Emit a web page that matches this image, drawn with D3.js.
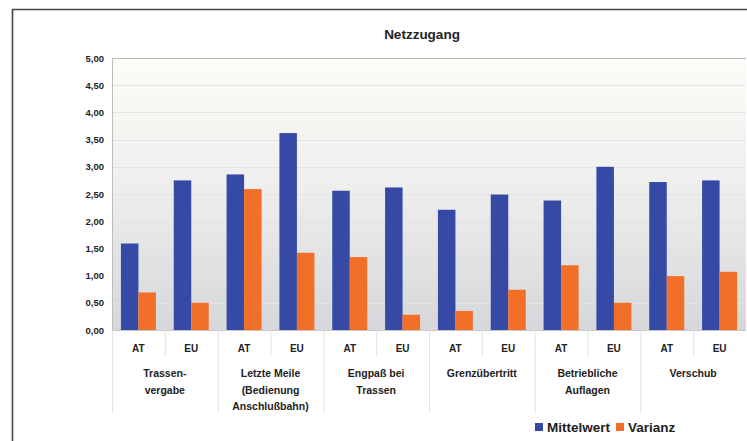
<!DOCTYPE html>
<html><head><meta charset="utf-8">
<script src="https://cdn.jsdelivr.net/npm/d3@7"></script>
<style>
html,body{margin:0;padding:0;background:#fff;}
svg{display:block;font-family:"Liberation Sans",Arial,sans-serif;}
</style></head>
<body><svg id="c" width="747" height="441"></svg>
<script>
const categories = [["Trassen-","vergabe"],["Letzte Meile","(Bedienung","Anschlußbahn)"],["Engpaß bei","Trassen"],["Grenzübertritt"],["Betriebliche","Auflagen"],["Verschub"]];
const regions = ["AT","EU"];
const seriesNames = ["Mittelwert","Varianz"];
const mittelwert = [1.59,2.75, 2.86,3.62, 2.56,2.62, 2.21,2.49, 2.38,3.00, 2.72,2.75];
const varianz    = [0.69,0.50, 2.59,1.42, 1.34,0.28, 0.35,0.74, 1.19,0.50, 0.99,1.07];
const yTicks = [0,0.5,1,1.5,2,2.5,3,3.5,4,4.5,5];
const colors = ["#3549a5","#f26f27"];

const svg = d3.select("#c");
const L = 112, R = 746, T = 58, B = 330;

// outer frame
svg.append("line").attr("x1",12).attr("x2",747).attr("y1",9.5).attr("y2",9.5).attr("stroke","#444").attr("stroke-width",1.6);
svg.append("line").attr("x1",12.5).attr("x2",12.5).attr("y1",9).attr("y2",441).attr("stroke","#444").attr("stroke-width",1.6);

// gradient
const defs = svg.append("defs");
const g = defs.append("linearGradient").attr("id","bg").attr("x1",0).attr("x2",0).attr("y1",0).attr("y2",1);
g.append("stop").attr("offset","0%").attr("stop-color","#fdfcf7");
g.append("stop").attr("offset","45%").attr("stop-color","#efefee");
g.append("stop").attr("offset","100%").attr("stop-color","#d6d7da");
svg.append("rect").attr("x",L).attr("y",T).attr("width",R-L).attr("height",B-T).attr("fill","url(#bg)");

const y = d3.scaleLinear().domain([0,5]).range([B,T]);
const xCat = d3.scaleBand().domain(d3.range(categories.length)).range([L,R]);
const xReg = d3.scaleBand().domain(regions).range([0,xCat.bandwidth()]);
const xSer = d3.scaleBand().domain(seriesNames).range([0,xReg.bandwidth()]).paddingOuter(0.51).paddingInner(0);

// gridlines
svg.append("g").selectAll("line").data(yTicks.filter(d=>d>0)).join("line")
  .attr("x1",L).attr("x2",R).attr("y1",d=>Math.round(y(d))+0.5).attr("y2",d=>Math.round(y(d))+0.5)
  .attr("stroke",d=>d===5?"#b9b9b9":"#e3e3e3").attr("stroke-width",d=>d===5?1.2:1);

// y axis
const yAxis = d3.axisLeft(y).tickValues(yTicks).tickSize(0).tickPadding(8)
  .tickFormat(d=>d3.format(".2f")(d).replace(".",","));
const ya = svg.append("g").attr("transform",`translate(${L},0)`).call(yAxis);
ya.select(".domain").attr("stroke","#bdbdbd");
ya.selectAll("text").attr("font-size",9.5).attr("font-weight","bold").attr("fill","#222").attr("font-family","'Liberation Sans',Arial,sans-serif");

// bars
const rows = [];
categories.forEach((c,i)=>regions.forEach((r,j)=>{
  const k = i*regions.length+j;
  rows.push({cat:i,reg:r,s:seriesNames[0],v:mittelwert[k]});
  rows.push({cat:i,reg:r,s:seriesNames[1],v:varianz[k]});
}));
svg.append("g").selectAll("rect").data(rows).join("rect")
  .attr("x",d=>xCat(d.cat)+xReg(d.reg)+xSer(d.s))
  .attr("width",xSer.bandwidth())
  .attr("y",d=>y(d.v)).attr("height",d=>y(0)-y(d.v))
  .attr("fill",d=>colors[seriesNames.indexOf(d.s)]);

// baseline
svg.append("line").attr("x1",L).attr("x2",R).attr("y1",B+0.5).attr("y2",B+0.5).attr("stroke","#c8c8c8");

// category axis separators
const sep = svg.append("g").attr("stroke","#e2e2e2");
categories.forEach((c,i)=>{
  const x0 = xCat(i);
  sep.append("line").attr("x1",x0+0.5).attr("x2",x0+0.5).attr("y1",B).attr("y2",413);
  sep.append("line").attr("x1",x0+xReg("EU")+0.5).attr("x2",x0+xReg("EU")+0.5).attr("y1",B).attr("y2",356);
});

// region labels
const lab = svg.append("g").attr("font-weight","bold").attr("fill","#222").attr("text-anchor","middle");
categories.forEach((c,i)=>regions.forEach(r=>{
  lab.append("text").attr("font-size",10).attr("x",xCat(i)+xReg(r)+xReg.bandwidth()/2).attr("y",352).text(r);
}));
// category labels
categories.forEach((c,i)=>{
  c.forEach((line,li)=>{
    lab.append("text").attr("font-size",10.5).attr("x",xCat(i)+xCat.bandwidth()/2).attr("y",377+li*16.5).text(line);
  });
});

// title
svg.append("text").attr("x",422).attr("y",39).attr("text-anchor","middle").attr("font-size",13.5).attr("font-weight","bold").attr("fill","#222").text("Netzzugang");

// legend
const lg = svg.append("g").attr("font-size",13.5).attr("font-weight","bold").attr("fill","#222");
const lx = [535,616];
seriesNames.forEach((s,i)=>{
  lg.append("rect").attr("x",lx[i]).attr("y",423).attr("width",8).attr("height",8).attr("fill",colors[i]);
  lg.append("text").attr("x",lx[i]+12).attr("y",432).text(s);
});
</script></body></html>
